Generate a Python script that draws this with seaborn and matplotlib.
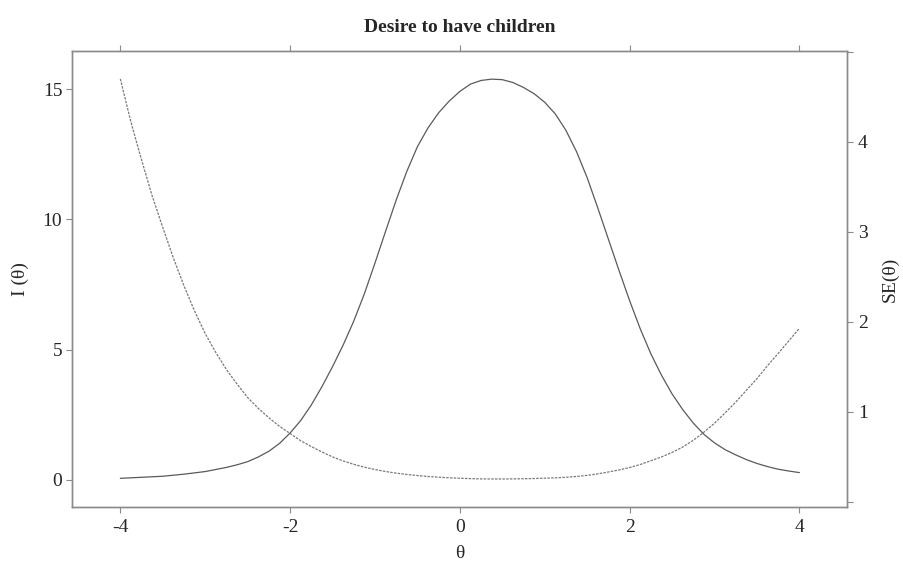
import numpy as np
import pandas as pd
import matplotlib
matplotlib.use("Agg")
import matplotlib.pyplot as plt
import seaborn as sns

sns.set_theme(style="ticks")
plt.rcParams["font.family"] = ["Liberation Serif", "DejaVu Serif"]
plt.rcParams["axes.unicode_minus"] = False

# values (theta step 0.125)
theta = [-4.0, -3.875, -3.75, -3.625, -3.5, -3.375, -3.25, -3.125,
         -3.0, -2.875, -2.75, -2.625, -2.5, -2.375, -2.25, -2.125,
         -2.0, -1.875, -1.75, -1.625, -1.5, -1.375, -1.25, -1.125,
         -1.0, -0.875, -0.75, -0.625, -0.5, -0.375, -0.25, -0.125,
         0.0, 0.125, 0.25, 0.375, 0.5, 0.625, 0.75, 0.875,
         1.0, 1.125, 1.25, 1.375, 1.5, 1.625, 1.75, 1.875,
         2.0, 2.125, 2.25, 2.375, 2.5, 2.625, 2.75, 2.875,
         3.0, 3.125, 3.25, 3.375, 3.5, 3.625, 3.75, 3.875, 4.0]
info = [0.06, 0.08, 0.10, 0.12, 0.14, 0.18, 0.22, 0.27,
        0.32, 0.40, 0.48, 0.58, 0.70, 0.88, 1.10, 1.40,
        1.80, 2.28, 2.88, 3.58, 4.35, 5.18, 6.10, 7.15,
        8.33, 9.55, 10.75, 11.85, 12.80, 13.52, 14.10, 14.55,
        14.92, 15.20, 15.34, 15.39, 15.37, 15.26, 15.07, 14.83,
        14.50, 14.05, 13.42, 12.60, 11.60, 10.44, 9.24, 8.04,
        6.88, 5.80, 4.84, 4.02, 3.30, 2.70, 2.18, 1.75,
        1.42, 1.16, 0.96, 0.78, 0.63, 0.51, 0.41, 0.34, 0.28]
se = [4.70, 4.22, 3.80, 3.40, 3.05, 2.71, 2.40, 2.12,
      1.87, 1.66, 1.47, 1.31, 1.16, 1.04, 0.935, 0.84,
      0.76, 0.68, 0.615, 0.555, 0.50, 0.455, 0.418, 0.386,
      0.36, 0.338, 0.32, 0.305, 0.293, 0.283, 0.275, 0.268,
      0.263, 0.259, 0.256, 0.255, 0.255, 0.256, 0.258, 0.26,
      0.264, 0.268, 0.274, 0.283, 0.295, 0.312, 0.333, 0.355,
      0.382, 0.416, 0.458, 0.50, 0.55, 0.61, 0.685, 0.775,
      0.875, 0.99, 1.11, 1.24, 1.37, 1.515, 1.65, 1.79, 1.93]

left_ticks = [0, 5, 10, 15]
right_ticks = [0, 1, 2, 3, 4, 5]
right_labels = ["", "1", "2", "3", "4", ""]
x_ticks = [-4, -2, 0, 2, 4]

df = pd.DataFrame({"theta": theta, "info": info, "se": se})

fig = plt.figure(figsize=(9.04, 5.65), dpi=100)
ax = fig.add_axes([0.0796, 0.1027, 0.8573, 0.807])
ax2 = ax.twinx()

sns.lineplot(data=df, x="theta", y="info", ax=ax, color="#5a5a5a", linewidth=0.9)
sns.lineplot(data=df, x="theta", y="se", ax=ax2, color="#7a7a7a", linewidth=0.9,
             linestyle=(0, (2, 1)))

ax.set_xlim(-4.57, 4.56)
ax.set_ylim(-1.04, 16.47)
ax2.set_ylim(-0.056, 5.01)
ax.set_xticks(x_ticks)
ax.set_yticks(left_ticks)
ax2.set_yticks(right_ticks)
ax2.set_yticklabels(right_labels)

ax.set_xlabel("θ", fontsize=14, labelpad=6)
ax.set_ylabel("I (θ)", fontsize=14, labelpad=10)
ax2.set_ylabel("SE(θ)", fontsize=14, labelpad=10)
ax.set_title("Desire to have children", fontsize=14, fontweight="bold", pad=14)

for a in (ax, ax2):
    for s in a.spines.values():
        s.set_color("#8a8a8a")
        s.set_linewidth(1.0)
ax.tick_params(axis="x", top=True, direction="out", length=4, width=0.8,
               color="#8a8a8a", labelsize=14, pad=5)
ax.tick_params(axis="y", direction="out", length=4, width=0.8,
               color="#8a8a8a", labelsize=14, pad=3)
ax2.tick_params(axis="y", direction="out", length=4, width=0.8,
                color="#8a8a8a", labelsize=14, pad=4)

plt.savefig("out.png", dpi=100)
plt.close()
